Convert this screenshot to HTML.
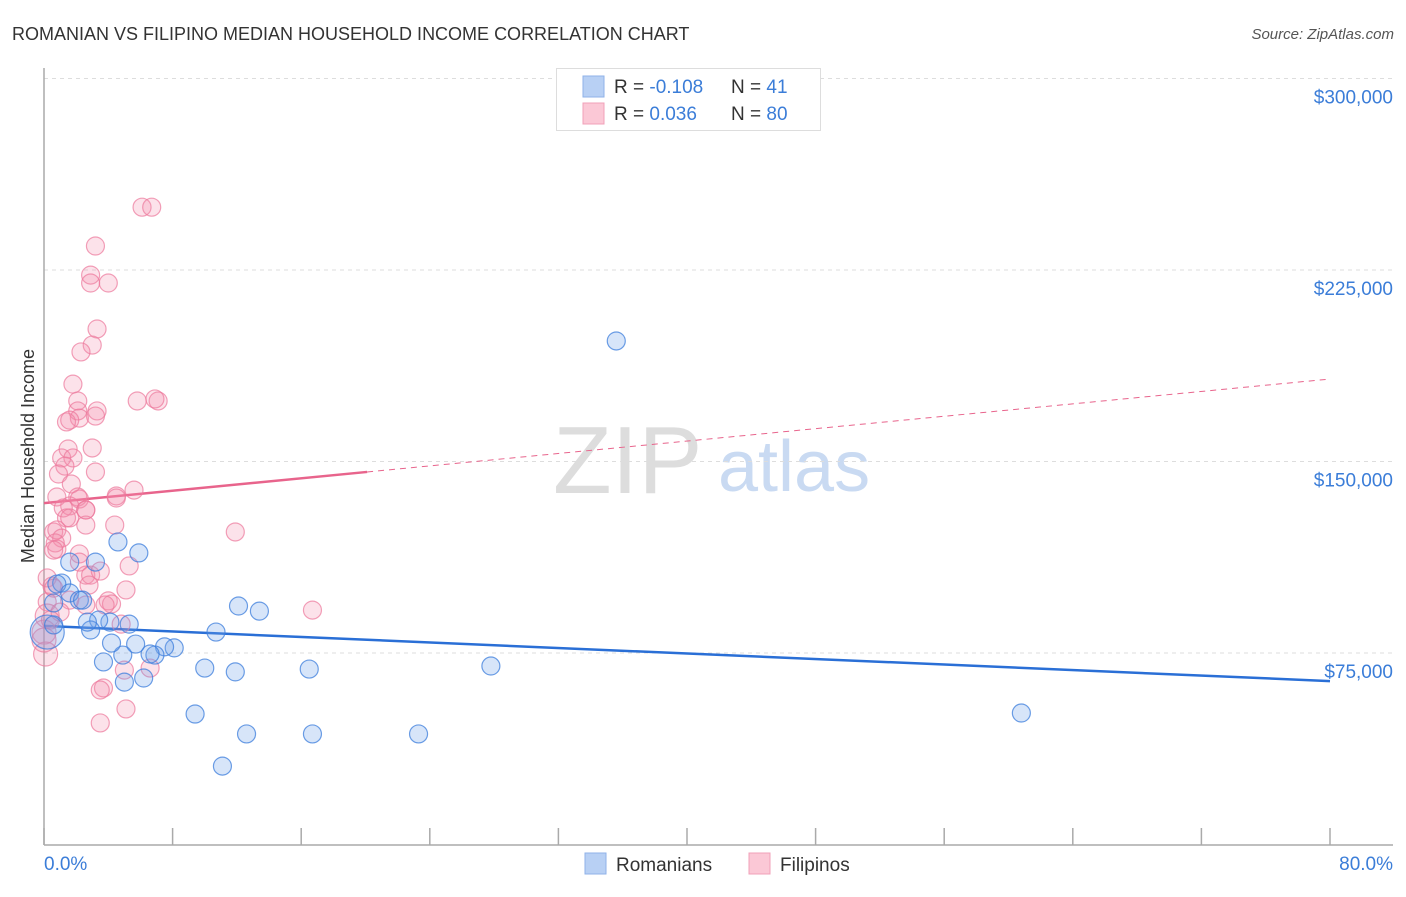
<!DOCTYPE html>
<html><head><meta charset="utf-8"><style>
body{margin:0;background:#fff;font-family:"Liberation Sans",sans-serif;}
svg text{font-family:"Liberation Sans",sans-serif;}
</style></head><body>
<svg id="chart" width="1406" height="892" xmlns="http://www.w3.org/2000/svg">
<text x="12" y="40" font-size="18" fill="#333">ROMANIAN VS FILIPINO MEDIAN HOUSEHOLD INCOME CORRELATION CHART</text>
<text x="1394" y="39" font-size="15" fill="#555" font-style="italic" text-anchor="end">Source: ZipAtlas.com</text>
<text transform="translate(34,456) rotate(-90)" font-size="18" fill="#333" text-anchor="middle">Median Household Income</text>
<g>
<text x="553" y="493" font-size="96" fill="#ddd" font-family="Liberation Serif,serif">ZIP</text>
<text x="718" y="491" font-size="72" fill="#c9daf2">atlas</text>
</g>
<g id="grid"></g><g id="axes"></g><g id="trend"></g><g id="pts"></g>
<g>
<rect x="556.5" y="68.5" width="264" height="62" fill="#fff" stroke="#ddd"/>
<rect x="583" y="76" width="21" height="21" fill="#b8d0f4" stroke="#8fb2e8"/>
<rect x="583" y="103" width="21" height="21" fill="#fbc8d6" stroke="#f0a0b8"/>
<text x="614" y="93" font-size="19" fill="#333">R = <tspan fill="#3b7dd8">-0.108</tspan></text>
<text x="731" y="93" font-size="19" fill="#333">N = <tspan fill="#3b7dd8"> 41</tspan></text>
<text x="614" y="120" font-size="19" fill="#333">R = <tspan fill="#3b7dd8"> 0.036</tspan></text>
<text x="731" y="120" font-size="19" fill="#333">N = <tspan fill="#3b7dd8">80</tspan></text>
</g>
<g>
<rect x="585" y="853" width="21" height="21" fill="#b8d0f4" stroke="#8fb2e8"/>
<text x="616" y="871" font-size="19" fill="#333">Romanians</text>
<rect x="749" y="853" width="21" height="21" fill="#fbc8d6" stroke="#f0a0b8"/>
<text x="780" y="871" font-size="19" fill="#333">Filipinos</text>
</g>
</svg>
<script>
const romX=[35.6,60.8,27.8,23.3,16.7,11.1,12.6,9.4,16.5,11.9,10.0,13.4,12.1,10.7,8.1,7.5,6.9,6.6,6.2,5.0,4.9,4.2,3.7,5.7,5.3,4.1,3.4,2.9,2.7,4.6,5.9,3.2,1.6,1.1,0.8,1.6,2.2,0.6,0.2,2.4,0.6];
const romY=[197200,51500,69900,43300,43300,30700,43300,51100,68700,67600,69100,91400,93400,83200,77000,77400,74200,74600,65200,63600,74200,78900,71500,78500,86300,87100,87900,84000,87100,118500,114200,110600,110600,102400,102000,98500,95700,94600,83200,95700,86000];
const filX=[6.1,6.7,3.2,2.9,2.9,4.0,3.3,3.0,2.3,1.8,2.1,7.1,5.8,6.9,3.3,3.2,2.1,2.2,1.4,1.6,1.5,3.0,1.1,1.8,1.3,3.2,0.9,1.7,5.6,4.5,2.1,0.8,2.2,2.6,1.6,4.5,1.2,2.6,1.4,1.6,2.6,4.4,0.6,0.8,1.1,0.7,0.8,0.6,11.9,2.2,5.3,2.2,2.6,2.9,3.5,0.2,0.5,5.1,4.0,4.2,0.2,0.2,4.8,0.0,0.1,0.0,16.7,6.6,5.0,3.7,3.5,5.1,3.5,2.8,1.6,2.6,1.0,0.4,0.6,3.8];
const filY=[249600,249600,234400,223000,219900,219900,201900,195600,192900,180300,173700,173700,173700,174500,169800,167800,169800,167000,165500,166200,154900,155300,151400,151400,148200,145900,145100,141200,138800,136500,136100,136100,135300,131000,132600,135700,131800,131000,127900,127900,125100,125100,122400,123200,120000,118100,115700,115300,122400,113800,109100,110600,105500,105500,107100,104400,101200,99700,95400,94200,95000,89500,86300,83200,74600,80100,91800,69100,68300,61300,60500,53100,47600,101600,95700,93800,91000,87900,100400,93800];
const yTicks=[75000,150000,225000,300000];
const yTickLabels=["$75,000","$150,000","$225,000","$300,000"];
const xTickVals=[0,8,16,24,32,40,48,56,64,72,80];
const romTrend=[85600,64000];
const filTrend=[133700,182300];
const filSolidEnd=20.1;
const NS="http://www.w3.org/2000/svg";
const X=v=>44+v/80*1286;
const Y=v=>844.5-v/75000*191.5;
function mk(p,t,a){const e=document.createElementNS(NS,t);for(const k in a)e.setAttribute(k,a[k]);p.appendChild(e);return e;}
const grid=document.getElementById('grid'),axes=document.getElementById('axes'),trend=document.getElementById('trend'),pts=document.getElementById('pts');
yTicks.forEach((v,i)=>{
 const l=mk(grid,'line',{x1:44,x2:1393,y1:Y(v),y2:Y(v),stroke:'#ddd','stroke-dasharray':'4,4'});
 
 
 const t=mk(grid,'text',{x:1393,y:Y(v)+25,'font-size':19,fill:'#3b7dd8','text-anchor':'end'});
 t.textContent=yTickLabels[i];
 
 
});
const ya=mk(axes,'line',{x1:44,x2:44,y1:68,y2:845,stroke:'#aaa','stroke-width':1.5});


const xa=mk(axes,'line',{x1:44,x2:1393,y1:845,y2:845,stroke:'#aaa','stroke-width':1.5});


xTickVals.forEach(v=>{
 const t=mk(axes,'line',{x1:X(v),x2:X(v),y1:828,y2:845,stroke:'#aaa','stroke-width':1.5});
 
 
});
const xl0=mk(axes,'text',{x:44,y:870,'font-size':19,fill:'#3b7dd8'});xl0.textContent='0.0%';


const xl1=mk(axes,'text',{x:1393,y:870,'font-size':19,fill:'#3b7dd8','text-anchor':'end'});xl1.textContent='80.0%';


function dot(x,y,r,fill,stroke,name){const c=mk(pts,'circle',{cx:X(x),cy:Y(y),r:r,fill:fill,stroke:stroke,'stroke-width':1.2});
 
 }
filX.forEach((x,i)=>dot(x,filY[i],(x<0.3&&filY[i]<90000)?12:9,'rgba(242,140,170,0.25)','rgba(236,120,155,0.7)','filipino-point'));
romX.forEach((x,i)=>dot(x,romY[i],i==38?17:9,'rgba(110,160,235,0.28)','rgba(60,125,220,0.75)','romanian-point'));
const fy=x=>filTrend[0]+(filTrend[1]-filTrend[0])*x/80;
const t1=mk(trend,'line',{x1:X(0),y1:Y(romTrend[0]),x2:X(80),y2:Y(romTrend[1]),stroke:'#2a6fd6','stroke-width':2.5});


const t2=mk(trend,'line',{x1:X(0),y1:Y(fy(0)),x2:X(filSolidEnd),y2:Y(fy(filSolidEnd)),stroke:'#e8648c','stroke-width':2.5});


const t3=mk(trend,'line',{x1:X(filSolidEnd),y1:Y(fy(filSolidEnd)),x2:X(80),y2:Y(fy(80)),stroke:'#e8648c','stroke-width':1,'stroke-dasharray':'6,5'});


</script>
</body></html>
